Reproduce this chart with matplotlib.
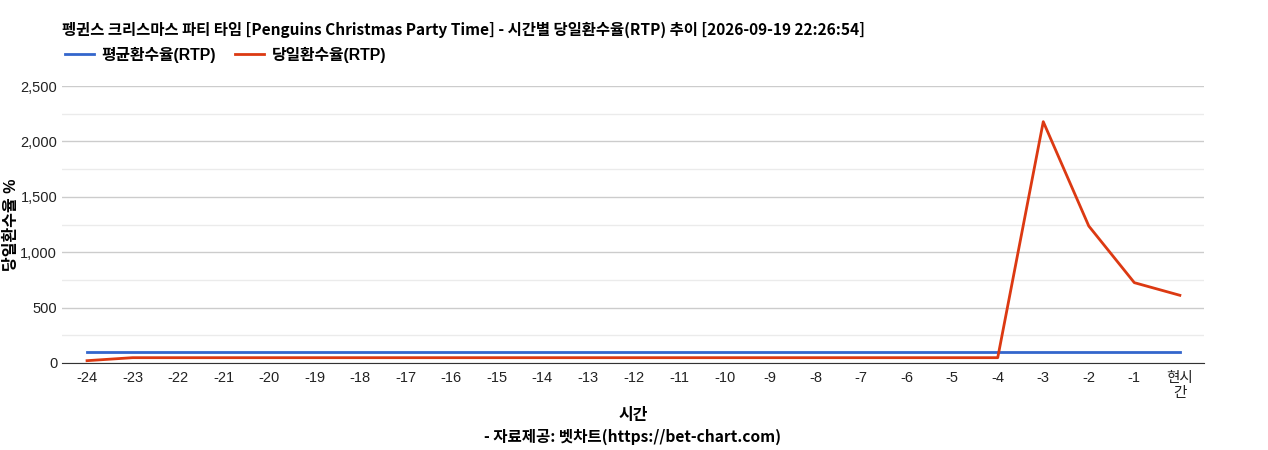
import matplotlib
matplotlib.use('Agg')
import matplotlib.pyplot as plt
from matplotlib.ticker import MultipleLocator, FuncFormatter

plt.rcParams['font.family'] = ['Liberation Sans', 'Noto Sans CJK KR', 'DejaVu Sans']

# data
hours = ['-24', '-23', '-22', '-21', '-20', '-19', '-18', '-17', '-16', '-15', '-14', '-13',
         '-12', '-11', '-10', '-9', '-8', '-7', '-6', '-5', '-4', '-3', '-2', '-1', '현시\n간']
avg_rtp = [96] * 25
today_rtp = [21, 48, 48, 48, 48, 48, 48, 48, 48, 48, 48, 48,
             48, 48, 48, 48, 48, 48, 48, 48, 48, 2178, 1236, 725, 611]

fig = plt.figure(figsize=(12.68, 4.5), dpi=100)
ax = fig.add_axes([62 / 1268, 1 - 363 / 450, (1204 - 62) / 1268, (363 - 86) / 450])

x = list(range(len(hours)))
l1, = ax.plot(x, avg_rtp, color='#3366cc', lw=2, label='평균환수율(RTP)')
l2, = ax.plot(x, today_rtp, color='#dc3912', lw=2, label='당일환수율(RTP)')

ax.set_xlim(-0.55, 24.53)
ax.set_ylim(0, 2500)
ax.yaxis.set_major_locator(MultipleLocator(500))
ax.yaxis.set_minor_locator(MultipleLocator(250))
ax.yaxis.set_major_formatter(FuncFormatter(lambda v, p: f'{int(v):,}'))
ax.grid(axis='y', which='major', color='#cccccc', lw=1)
ax.grid(axis='y', which='minor', color='#ebebeb', lw=1)
ax.set_axisbelow(True)
for s in ['top', 'right', 'left']:
    ax.spines[s].set_visible(False)
ax.spines['bottom'].set_color('#333333')
ax.tick_params(axis='both', which='both', length=0, labelsize=10.5, colors='#222222')
ax.tick_params(axis='x', pad=6)
ax.set_xticks(x)
ax.set_xticklabels(hours, linespacing=1.1)

ax.set_ylabel('당일환수율 %', fontsize=11.5, fontweight='bold')
ax.yaxis.set_label_coords(-43 / 1142, 0.5)
ax.set_xlabel('시간', fontsize=11.5, fontweight='bold')
ax.xaxis.set_label_coords(0.5, -(408 - 363) / 277)

fig.text(62 / 1268, 1 - 30 / 450,
         '펭귄스 크리스마스 파티 타임 [Penguins Christmas Party Time] - 시간별 당일환수율(RTP) 추이 [2026-09-19 22:26:54]',
         fontsize=11.1, fontweight='bold', va='center', ha='left',
         family=['Noto Sans CJK KR', 'DejaVu Sans'])
fig.text(0.5 * (62 + 1204) / 1268, 1 - 437 / 450, '- 자료제공: 벳차트(https://bet-chart.com)',
         fontsize=11.2, fontweight='bold', va='center', ha='center',
         family=['Noto Sans CJK KR', 'DejaVu Sans'])

fig.legend(handles=[l1, l2], loc='center left', bbox_to_anchor=(51 / 1268, 1 - 55 / 450),
           ncol=2, frameon=False, handlelength=1.8, columnspacing=1.2,
           handletextpad=0.5, prop={'weight': 'bold', 'size': 11.4})

fig.savefig('out.png', dpi=100)
